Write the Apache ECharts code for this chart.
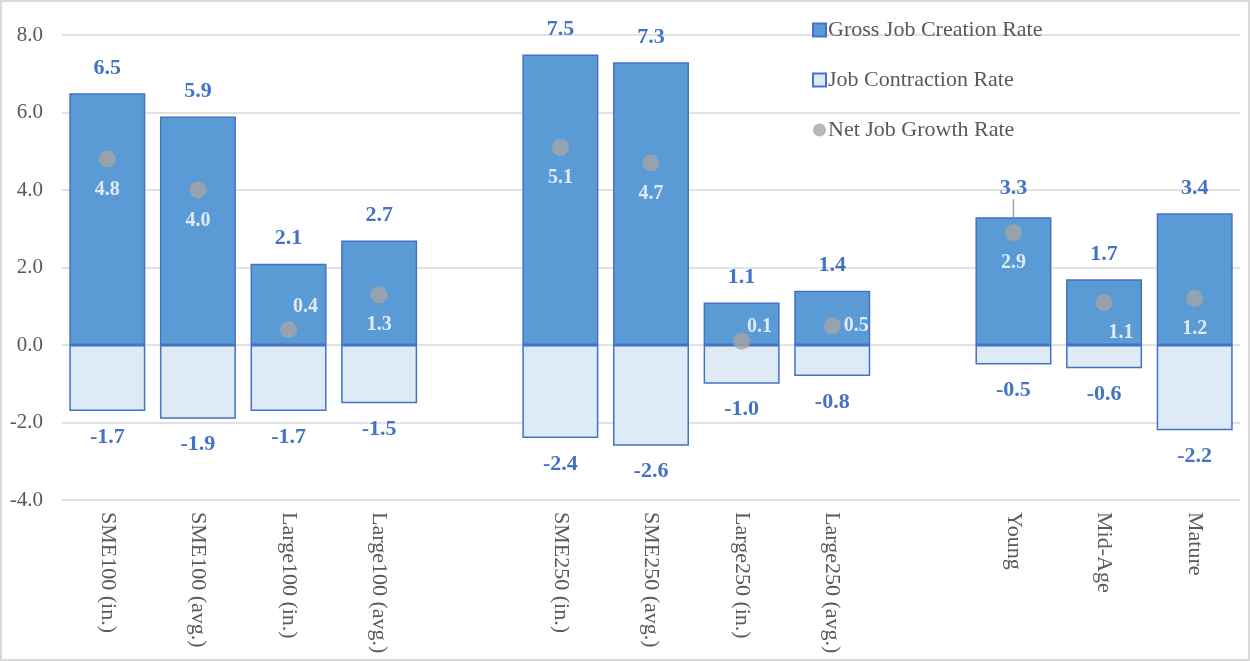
<!DOCTYPE html>
<html>
<head>
<meta charset="utf-8">
<title>Job creation, contraction and net growth</title>
<script src="https://cdn.jsdelivr.net/npm/echarts@6/dist/echarts.min.js"></script>
<style>
    html, body { margin: 0; padding: 0; background: #fff; }
    #chart { width: 1246px; height: 657px; border: 2px solid #d9d9d9; }
</style>
</head>
<body>
<div id="chart"></div>
<script>
// categories ('' = spacer between groups)
var categories = ['SME100 (in.)', 'SME100 (avg.)', 'Large100 (in.)', 'Large100 (avg.)', '',
    'SME250 (in.)', 'SME250 (avg.)', 'Large250 (in.)', 'Large250 (avg.)', '',
    'Young', 'Mid-Age', 'Mature'];
var grossCreation = [6.5, 5.9, 2.1, 2.7, '-', 7.5, 7.3, 1.1, 1.4, '-', 3.3, 1.7, 3.4];
var contraction = [-1.7, -1.9, -1.7, -1.5, '-', -2.4, -2.6, -1.0, -0.8, '-', -0.5, -0.6, -2.2];
var netGrowth = [4.8, 4.0, 0.4, 1.3, '-', 5.1, 4.7, 0.1, 0.5, '-', 2.9, 1.1, 1.2];

// hand-moved labels (like in the original sheet)
var netRight = {2: [-6, -23], 7: [-5, -14], 8: [1, 0]};
var netShift = {11: [17, 0]};
var leaderIdx = 10;

var serif = '"Liberation Serif", "DejaVu Serif", serif';
var myChart = echarts.init(document.getElementById('chart'));

var netData = netGrowth.map(function(v, i){
    if (netRight[i]) {
        return { value: v, label: { position: 'right', distance: 2, offset: netRight[i] } };
    }
    if (netShift[i]) {
        return { value: v, label: { offset: netShift[i] } };
    }
    return v;
});

var grossData = grossCreation.map(function(v, i){
    if (i === leaderIdx) {
        return { value: v, labelLine: { show: true, lineStyle: { color: '#a5a5a5', width: 1.5 } } };
    }
    return v;
});

function fmt(p){ return p.value.toFixed(1); }

var option = {
    animation: false,
    textStyle: { fontFamily: serif },
    grid: { left: 60, right: 8, top: 33, bottom: 159 },
    legend: {
        orient: 'vertical',
        left: 805,
        top: 12,
        itemWidth: 13,
        itemHeight: 13,
        itemGap: 28,
        textStyle: { fontFamily: serif, fontSize: 22, color: '#595959', padding: [0, 0, 0, -3] },
        data: [
            { name: 'Gross Job Creation Rate', icon: 'rect' },
            { name: 'Job Contraction Rate', icon: 'rect' },
            { name: 'Net Job Growth Rate', icon: 'circle', itemStyle: { borderWidth: 0 } }
        ]
    },
    xAxis: {
        type: 'category',
        data: categories,
        axisLine: { show: false },
        axisTick: { show: false },
        axisLabel: {
            rotate: -90,
            margin: 12,
            interval: 0,
            fontFamily: serif,
            fontSize: 22,
            color: '#595959'
        }
    },
    yAxis: {
        type: 'value',
        min: -4,
        max: 8,
        interval: 2,
        axisLine: { show: false },
        axisTick: { show: false },
        splitLine: { lineStyle: { color: '#d9d9d9', width: 1.5 } },
        axisLabel: {
            margin: 19,
            fontFamily: serif,
            fontSize: 21,
            color: '#595959',
            formatter: function(v){ return v.toFixed(1); }
        }
    },
    series: [
        {
            name: 'Gross Job Creation Rate',
            type: 'bar',
            stack: 'rate',
            barWidth: 76,
            data: grossData,
            itemStyle: { color: '#5b9bd5', borderColor: '#4472c4', borderWidth: 1.5 },
            label: {
                show: true,
                position: 'top',
                distance: 14,
                fontFamily: serif,
                fontSize: 22,
                fontWeight: 'bold',
                color: '#4472c4',
                formatter: fmt
            },
            labelLayout: function(params){
                if (params.dataIndex === leaderIdx) {
                    return { dy: -4 };
                }
            }
        },
        {
            name: 'Job Contraction Rate',
            type: 'bar',
            stack: 'rate',
            barWidth: 76,
            data: contraction,
            itemStyle: { color: '#deebf7', borderColor: '#4472c4', borderWidth: 1.5 },
            label: {
                show: true,
                position: 'bottom',
                distance: 15,
                fontFamily: serif,
                fontSize: 22,
                fontWeight: 'bold',
                color: '#4472c4',
                formatter: fmt
            }
        },
        {
            name: 'Net Job Growth Rate',
            type: 'scatter',
            data: netData,
            symbolSize: 17,
            itemStyle: { color: '#a5a5a5' },
            z: 5,
            label: {
                show: true,
                position: 'bottom',
                distance: 12,
                fontFamily: serif,
                fontSize: 20,
                fontWeight: 'bold',
                color: '#ffffff',
                formatter: fmt
            }
        }
    ]
};

myChart.setOption(option);
</script>
</body>
</html>
